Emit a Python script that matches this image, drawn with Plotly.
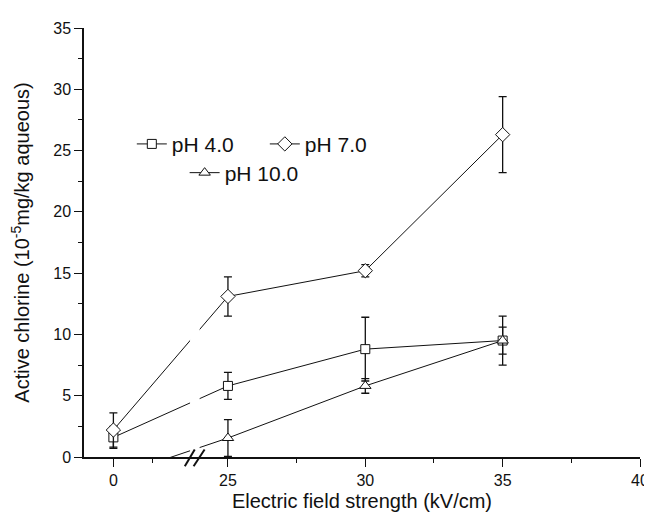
import plotly.graph_objects as go

# ---- data ----
field_kv = [0, 25, 30, 35]
ph4 = [1.6, 5.8, 8.8, 9.5]
ph4_err = [0.9, 1.1, 2.6, 2.0]
ph7 = [2.2, 13.1, 15.2, 26.3]
ph7_err = [1.4, 1.6, 0.5, 3.1]
ph10 = [-1.6, 1.55, 5.8, 9.5]
ph10_err = [0.0, 1.5, 0.6, 1.1]

tick_labels = ["0", "25", "30", "35", "40"]
tick_values = [0, 25, 30, 35, 40]

# ---- broken x axis transform ----
ZERO_POS = 20.83        # where 0 sits on the display axis
SEG1_SCALE = 0.571      # compression of the first segment
BREAK_POS = 23.79       # centre of the break marks
GAP = (23.62, 23.97)    # gap in the connecting lines


def disp(v):
    return v if v >= 25 else ZERO_POS + v * SEG1_SCALE


xd = [disp(v) for v in field_kv]
font = "Liberation Sans, Arial, sans-serif"
ink = "#111111"

fig = go.Figure()
series = [
    ("pH 4.0", ph4, ph4_err, "square", 9, "legend"),
    ("pH 7.0", ph7, ph7_err, "diamond", 11, "legend"),
    ("pH 10.0", ph10, ph10_err, "triangle-up", 10, "legend2"),
]
for name, ys, errs, sym, size, leg in series:
    fig.add_trace(go.Scatter(
        x=xd, y=ys, name=name, mode="lines+markers",
        line=dict(color=ink, width=1),
        marker=dict(symbol=sym, size=size, color="white",
                    line=dict(color=ink, width=1)),
        error_y=dict(type="data", array=errs, visible=True,
                     color=ink, thickness=1.3, width=4),
        legend=leg, cliponaxis=True,
    ))

shapes = [
    # white gap in the connecting lines at the axis break
    dict(type="rect", xref="x", yref="y", x0=GAP[0], x1=GAP[1], y0=0.12, y1=20,
         fillcolor="white", line=dict(width=0), layer="above"),
]
# break marks "//" crossing the x axis
for dx0, dx1 in [(-0.36, 0.0), (-0.04, 0.36)]:
    shapes.append(dict(type="line", xref="x", yref="paper",
                       x0=BREAK_POS + dx0, x1=BREAK_POS + dx1,
                       y0=-0.0216, y1=0.0174,
                       line=dict(color=ink, width=2), layer="above"))

fig.update_layout(
    width=652, height=512,
    margin=dict(l=74, r=11, t=20, b=61),
    paper_bgcolor="white", plot_bgcolor="white",
    font=dict(family=font, color=ink, size=16),
    shapes=shapes,
    legend=dict(orientation="h", x=0.086, y=0.729, xanchor="left", yanchor="middle",
                font=dict(size=21, family=font, color=ink),
                bgcolor="rgba(0,0,0,0)", itemwidth=30, entrywidth=88,
                entrywidthmode="pixels"),
    legend2=dict(orientation="h", x=0.181, y=0.662, xanchor="left", yanchor="middle",
                 font=dict(size=21, family=font, color=ink),
                 bgcolor="rgba(0,0,0,0)", itemwidth=30),
    showlegend=True,
)
fig.update_xaxes(
    range=[19.76, 40], tickmode="array",
    tickvals=[disp(v) for v in tick_values], ticktext=tick_labels,
    ticks="outside", ticklen=8, tickwidth=1.3, tickcolor=ink,
    minor=dict(tickvals=[disp(2.5), 27.5, 32.5, 37.5], ticks="outside",
               ticklen=4, tickwidth=1.3, tickcolor=ink),
    showline=True, linecolor=ink, linewidth=2, showgrid=False, zeroline=False,
    tickfont=dict(size=16),
    title=dict(text="Electric field strength (kV/cm)", font=dict(size=20), standoff=6),
)
fig.update_yaxes(
    range=[0, 35], dtick=5, tick0=0,
    ticks="outside", ticklen=8, tickwidth=1.3, tickcolor=ink,
    minor=dict(dtick=2.5, ticks="outside", ticklen=4, tickwidth=1.3, tickcolor=ink),
    showline=True, linecolor=ink, linewidth=1.5, showgrid=False, zeroline=False,
    tickfont=dict(size=16),
    title=dict(text="Active chlorine (10<sup>-5</sup>mg/kg aqueous)",
               font=dict(size=20), standoff=20),
)

fig.write_html("out.html")
